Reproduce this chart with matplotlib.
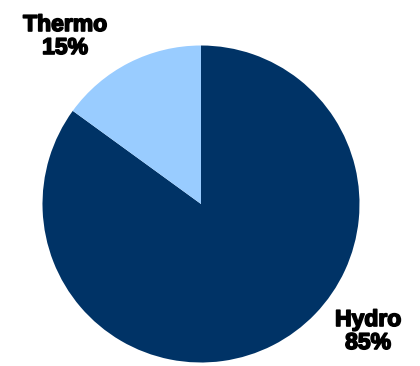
import matplotlib.pyplot as plt
import matplotlib.patheffects as pe

# generation mix
sources = ['Hydro', 'Thermo']
shares = [85, 15]
colors = ['#003366', '#99CCFF']

fig = plt.figure(figsize=(4.2, 3.66), dpi=100)
ax = fig.add_axes([0, 0, 1, 1])

# Hydro starts at 12 o'clock and runs clockwise
ax.pie(shares, colors=colors, startangle=90, counterclock=False,
       radius=1.0, wedgeprops=dict(linewidth=0))

r = 158.5
ax.set_xlim(-201 / r, 219 / r)
ax.set_ylim(-162 / r, 204 / r)
ax.set_aspect('equal')
ax.axis('off')

label_pos = {'Hydro': (368, 331), 'Thermo': (65, 36)}
for name, val in zip(sources, shares):
    px, py = label_pos[name]
    ax.text((px - 201) / r, (204 - py) / r, f'{name}\n{val}%',
            ha='center', va='center', fontsize=16.5, fontweight='bold',
            family='Liberation Sans', linespacing=1.0, color='black',
            path_effects=[pe.withStroke(linewidth=1.2, foreground='black')])

fig.savefig('out.png', dpi=100)
